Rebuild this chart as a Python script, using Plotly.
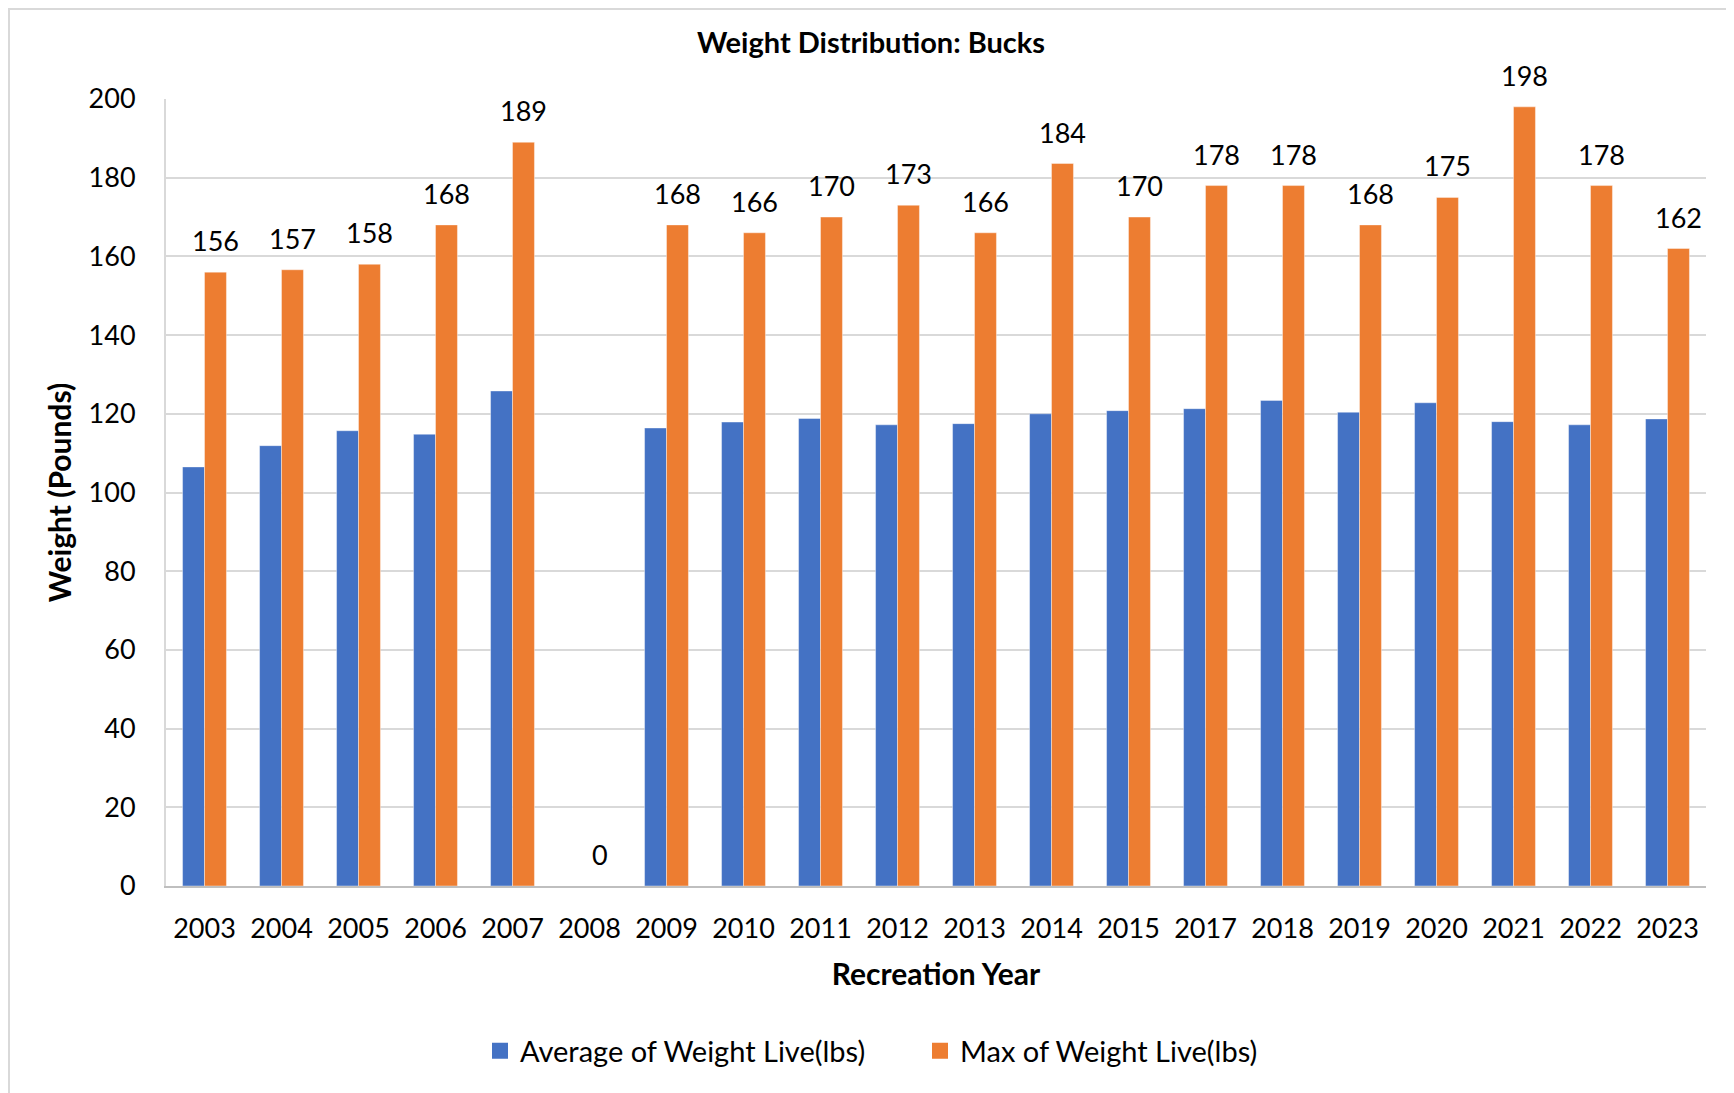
import plotly.graph_objects as go

# Recreation years (2016 has no data in the source table)
years = ["2003", "2004", "2005", "2006", "2007", "2008", "2009", "2010", "2011", "2012",
         "2013", "2014", "2015", "2017", "2018", "2019", "2020", "2021", "2022", "2023"]

# Average live weight per year
avg_weight = [106.5, 111.9, 115.7, 114.8, 125.8, 0, 116.4, 117.9, 118.8, 117.2,
              117.5, 120.0, 120.8, 121.3, 123.4, 120.4, 122.8, 118.0, 117.2, 118.7]

# Max live weight per year (labels on the chart)
max_weight = [156, 156.6, 158, 168, 189, 0, 168, 166, 170, 173,
              166, 183.6, 170, 178, 178, 168, 175, 198, 178, 162]

series_names = ["Average of Weight Live(lbs)", "Max of Weight Live(lbs)"]
colors = ["#4472C4", "#ED7D31"]

FONT = "Lato, Carlito, Calibri, sans-serif"
W, H = 1734, 1093
# page body has an 8px margin, so margins are shifted to line up with the original
L, R, T, B = 158, 36, 91, 215
BARGAP = 0.43

pw = W - L - R
ph = H - T - B

bar_edge = dict(color="rgba(255,255,255,0.5)", width=0.8)

fig = go.Figure()
fig.add_trace(go.Bar(
    x=years, y=avg_weight, name=series_names[0],
    marker=dict(color=colors[0], line=bar_edge), showlegend=False,
))
fig.add_trace(go.Bar(
    x=years, y=max_weight, name=series_names[1],
    marker=dict(color=colors[1], line=bar_edge), showlegend=False,
))

# legend entries with larger square keys
for name, col in zip(series_names, colors):
    fig.add_trace(go.Scatter(
        x=[None], y=[None], mode="markers", name=name,
        marker=dict(symbol="square", size=16, color=col),
    ))

# data labels above the max bars (shifted onto the right-hand bar of each group);
# category axes place annotations by category index
bar_px = pw / len(years) * (1 - BARGAP) / 2
for i, v in enumerate(max_weight):
    fig.add_annotation(
        x=i, y=v, xref="x", yref="y", text=f"{v:.0f}", showarrow=False,
        xanchor="center", yanchor="bottom", xshift=bar_px / 2, yshift=13,
        font=dict(size=27, color="#000000", family=FONT),
    )

# light border round the chart
fig.add_shape(type="rect", xref="paper", yref="paper",
              x0=(1 - L) / pw, x1=(W + 20 - L) / pw,
              y0=-(H + 20 - (T + ph)) / ph, y1=(T + ph - 1) / ph,
              line=dict(color="#D9D9D9", width=2), fillcolor="rgba(0,0,0,0)", layer="below")

fig.update_layout(
    width=W, height=H,
    margin=dict(l=L, r=R, t=T, b=B),
    paper_bgcolor="white", plot_bgcolor="white",
    font=dict(family=FONT, color="#000000"),
    barmode="group", bargap=BARGAP, bargroupgap=0,
    title=dict(text="<b>Weight Distribution: Bucks</b>", x=863 / W, xanchor="center",
               y=1 - 35 / H, yanchor="middle", font=dict(size=29, family=FONT)),
    xaxis=dict(
        type="category", categoryorder="array", categoryarray=years,
        range=[-0.5, len(years) - 0.5],
        showgrid=False, showline=True, linecolor="#BFBFBF", linewidth=2,
        ticks="", tickfont=dict(size=27), ticklabelstandoff=18,
        title=dict(text="<b>Recreation Year</b>", font=dict(size=30), standoff=21),
    ),
    yaxis=dict(
        range=[0, 200], dtick=20, showgrid=True, gridcolor="#D9D9D9", gridwidth=2,
        showline=True, linecolor="#D9D9D9", linewidth=2, zeroline=False,
        ticks="", tickfont=dict(size=27), ticklabelstandoff=23,
        title=dict(text="<b>Weight (Pounds)</b>", font=dict(size=30), standoff=8),
    ),
    legend=dict(orientation="h", x=(472 - L) / pw, xanchor="left",
                y=-(1043 - (T + ph)) / ph, yanchor="middle",
                font=dict(size=29), entrywidth=395, entrywidthmode="pixels",
                itemsizing="trace"),
)

fig.write_html("out.html")
